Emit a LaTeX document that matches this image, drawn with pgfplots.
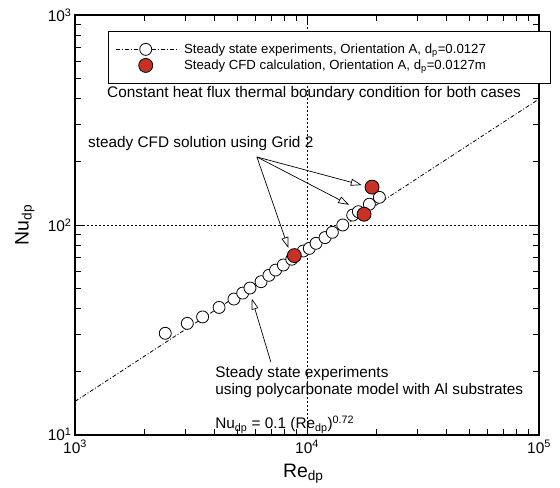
\documentclass[border=0pt]{standalone}
\usepackage{fontspec}
\setmainfont{Liberation Sans}
\usepackage{pgfplots}
\pgfplotsset{compat=1.18}
\usetikzlibrary{arrows.meta}
\definecolor{cfdred}{RGB}{200,50,38}
\pgfplotsset{
  widelegend/.style={legend image code/.code={%
    \path[draw=none, fill=none] (0bp,0bp) -- (60bp,0bp);
    \draw[mark repeat=2,mark phase=2,##1] plot coordinates {(0bp,0bp)(30bp,0bp)(60bp,0bp)};}},
  widemarklegend/.style={legend image code/.code={%
    \path[draw=none, fill=none] (0bp,0bp) -- (60bp,0bp);
    \draw[##1] plot[only marks] coordinates {(30bp,0bp)};}},
}
\begin{document}
\begin{tikzpicture}
\begin{axis}[
  scale only axis, width=464bp, height=420bp,
  xmode=log, ymode=log,
  xmin=1000, xmax=100000, ymin=10, ymax=1000,
  xtick={1000,10000,100000},
  xticklabels={10\textsuperscript{3},10\textsuperscript{4},10\textsuperscript{5}},
  ytick={10,100,1000},
  yticklabels={\raisebox{1.5bp}{10\textsuperscript{1}},10\textsuperscript{2},10\textsuperscript{3}},
  tick label style={font=\fontsize{15.5}{18}\selectfont},
  xticklabel style={inner ysep=1bp, yshift=-4.2bp},
  yticklabel style={inner ysep=1bp},
  axis line style={line width=1.3pt},
  major tick length=9bp, minor tick length=6bp,
  every tick/.style={black, line width=0.8pt},
  xmajorgrids, ymajorgrids,
  major grid style={black, line width=0.5pt, dash pattern=on 2pt off 2pt},
  xlabel={Re\textsubscript{dp}}, ylabel={Nu\textsubscript{dp}},
  label style={font=\fontsize{19.5}{22}\selectfont},
  xlabel style={at={(axis description cs:0.492,-0.100)}, anchor=base},
  ylabel style={at={(axis description cs:-0.108,0.5)}, anchor=center},
  legend style={at={(0.071,0.962)}, anchor=north west, draw=black, line width=0.8pt,
    fill=white, font=\fontsize{13.25}{15}\selectfont, inner xsep=7bp, inner ysep=10.5bp,
    row sep=1bp, cells={anchor=west},
    /tikz/every odd column/.append style={column sep=6bp}},
]
\addlegendimage{black, line width=0.8pt, dash pattern=on 4pt off 2pt on 1pt off 2pt,
  mark=*, mark options={solid, fill=white, draw=black, line width=0.8pt}, mark size=6bp,
  widelegend}
\addlegendentry{\makebox[357bp][l]{Steady state experiments, Orientation A, d\textsubscript{p}=0.0127}}
\addlegendimage{mark=*, mark options={fill=cfdred, draw=black, line width=0.8pt}, mark size=7bp,
  widemarklegend}
\addlegendentry{\makebox[357bp][l]{Steady CFD calculation, Orientation A, d\textsubscript{p}=0.0127m}}

% correlation Nu = 0.1 Re^0.72
\addplot[black, line width=0.8pt, dash pattern=on 4pt off 2pt on 1pt off 2pt, forget plot]
  coordinates {(1000,14.45) (100000,398.1)};

% steady state experiments
\addplot[only marks, mark=*, mark size=6bp, mark options={fill=white, draw=black, line width=0.8pt}, forget plot]
  table[row sep=\\] {
  x y\\
  2449 30.5\\
  3048 34.0\\
  3548 36.5\\
  4178 40.5\\
  4843 44.4\\
  5281 47.4\\
  5679 50.1\\
  6338 53.7\\
  6855 57.6\\
  7324 61.0\\
  7906 64.5\\
  8595 68.7\\
  9640 75.2\\
  10230 77.4\\
  10940 81.8\\
  11960 87.1\\
  12860 92.3\\
  14260 100.0\\
  15740 111.5\\
  16650 115.7\\
  18570 125.6\\
  20510 135.5\\
};

% CFD
\addplot[only marks, mark=*, mark size=7bp, mark options={fill=cfdred, draw=black, line width=0.8pt}, forget plot]
  table[row sep=\\] {
  x y\\
  8817 71.5\\
  17620 112.5\\
  19070 151.5\\
};

\node[anchor=west, font=\fontsize{15.4}{18}\selectfont, inner sep=0pt] at (rel axis cs:0.069,0.812)
  {Constant heat flux thermal boundary condition for both cases};
\node[anchor=west, font=\fontsize{15.4}{18}\selectfont, inner sep=0pt] at (rel axis cs:0.028,0.693)
  {steady CFD solution using Grid 2};
\node[anchor=west, font=\fontsize{15.4}{17}\selectfont, inner sep=0pt, align=left] at (rel axis cs:0.302,0.125)
  {Steady state experiments\\using polycarbonate model with Al substrates};
\node[anchor=west, font=\fontsize{15.4}{18}\selectfont, inner sep=0pt] at (rel axis cs:0.302,0.024)
  {Nu\textsubscript{dp} = 0.1 (Re\textsubscript{dp})\textsuperscript{0.72}};

\draw[line width=0.7pt, -{Triangle[open, length=11bp, width=7bp]}] (rel axis cs:0.392,0.662) -- (rel axis cs:0.460,0.445);
\draw[line width=0.7pt, -{Triangle[open, length=11bp, width=7bp]}] (rel axis cs:0.392,0.662) -- (rel axis cs:0.591,0.548);
\draw[line width=0.7pt, -{Triangle[open, length=11bp, width=7bp]}] (rel axis cs:0.392,0.662) -- (rel axis cs:0.618,0.595);
\draw[line width=0.7pt, -{Triangle[open, length=11bp, width=7bp]}] (rel axis cs:0.422,0.174) -- (rel axis cs:0.381,0.325);
\end{axis}
\pgfresetboundingbox
\path[use as bounding box] ([xshift=-75bp,yshift=-53bp]current axis.south west) rectangle ++(560bp,488bp);
\end{tikzpicture}
\end{document}
